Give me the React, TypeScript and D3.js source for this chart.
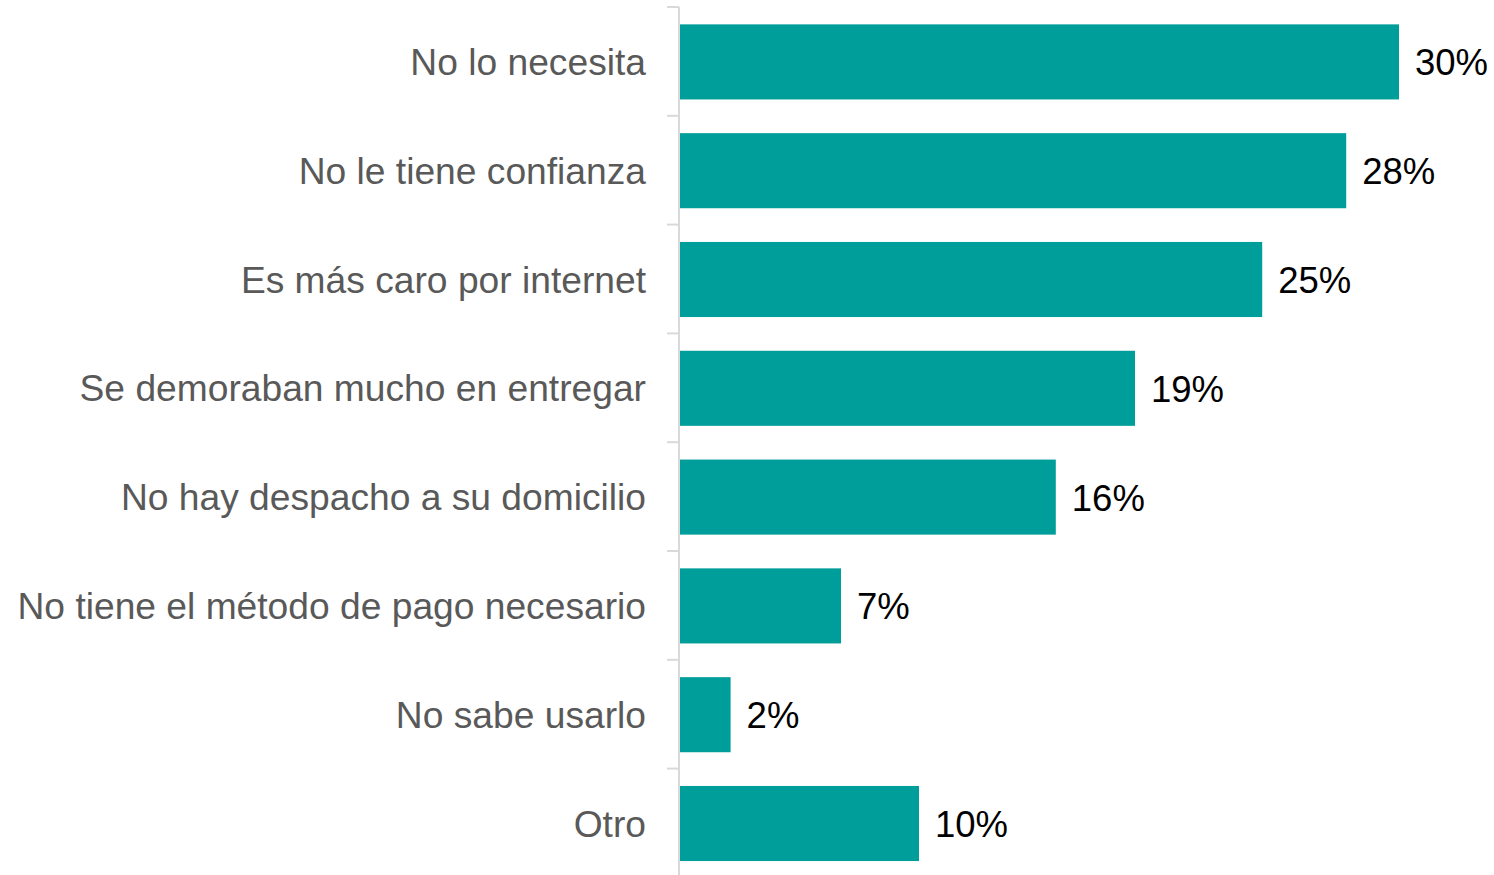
import React from "react";
import * as d3 from "d3";

const categories = [
  "No lo necesita",
  "No le tiene confianza",
  "Es más caro por internet",
  "Se demoraban mucho en entregar",
  "No hay despacho a su domicilio",
  "No tiene el método de pago necesario",
  "No sabe usarlo",
  "Otro",
];
const values = [30.0, 27.8, 24.3, 19.0, 15.7, 6.75, 2.15, 10.0];
const valueLabels = ["30%", "28%", "25%", "19%", "16%", "7%", "2%", "10%"];

export default function App() {
  const W = 1494;
  const H = 875;
  const axisX = 679;
  const x = d3.scaleLinear().domain([0, 30]).range([axisX, 1399]);
  const y = d3.scaleBand<string>().domain(categories).range([7.5, 877.9]).paddingInner(0.31).paddingOuter(0.155);
  const step = y.step();
  return (
    <svg width={W} height={H} style={{ position: "absolute", left: 0, top: 0 }}>
      <rect width={W} height={H} fill="#fff" />
      {categories.map((c, i) => {
        const y0 = y(c)!;
        const cy = y0 + y.bandwidth() / 2;
        return (
          <g key={c}>
            <rect x={axisX + 1} y={y0} width={x(values[i]) - axisX - 1} height={y.bandwidth()} fill="#009E9A" />
            <text x={646} y={cy} textAnchor="end" dominantBaseline="central" fontFamily="Liberation Sans, Arial, sans-serif" fontSize={37.2} fill="#595959">
              {c}
            </text>
            <text x={x(values[i]) + 16} y={cy + 1} textAnchor="start" dominantBaseline="central" fontFamily="Liberation Sans, Arial, sans-serif" fontSize={36.5} fill="#000">
              {valueLabels[i]}
            </text>
          </g>
        );
      })}
      {d3.range(categories.length).map((i) => {
        const ty = 7 + i * step;
        return <line key={i} x1={667} x2={axisX} y1={ty} y2={ty} stroke="#D9D9D9" strokeWidth={2} />;
      })}
      <line x1={axisX} x2={axisX} y1={7} y2={H} stroke="#D9D9D9" strokeWidth={2} />
    </svg>
  );
}
